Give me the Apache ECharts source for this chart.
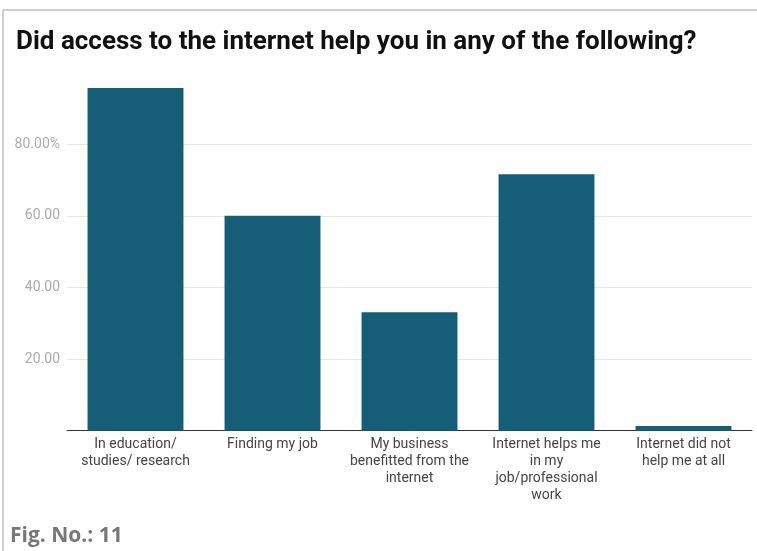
<!DOCTYPE html>
<html>
<head>
<meta charset="utf-8">
<script src="https://cdn.jsdelivr.net/npm/echarts@6/dist/echarts.min.js"></script>
<style>
  html, body { margin: 0; padding: 0; background: #fff; }
  #chart { width: 757px; height: 551px; }
</style>
</head>
<body>
<div id="chart"></div>
<script>
// Survey answers and the share of respondents (%) for each
const categories = [
  'In education/\nstudies/ research',
  'Finding my job',
  'My business\nbenefitted from the\ninternet',
  'Internet helps me\nin my\njob/professional\nwork',
  'Internet did not\nhelp me at all'
];
const shares = [95.7, 60.0, 33.1, 71.6, 1.3];
const yTicks = { min: 0, max: 100, step: 20 };
const titleText = 'Did access to the internet help you in any of the following?';
const figureCaption = 'Fig. No.: 11';

const chart = echarts.init(document.getElementById('chart'), null, { renderer: 'canvas' });

chart.setOption({
  animation: false,
  backgroundColor: '#ffffff',
  title: {
    text: titleText,
    left: 11,
    top: 24,
    textStyle: {
      fontFamily: 'Roboto',
      fontWeight: 'bold',
      fontSize: 26,
      color: '#111111'
    }
  },
  grid: {
    left: 67,
    right: 5,
    top: 72.6,
    bottom: 120.3,
    containLabel: false
  },
  xAxis: {
    type: 'category',
    data: categories,
    axisLine: { show: true, lineStyle: { color: '#333333', width: 1 } },
    axisTick: { show: false },
    axisLabel: {
      interval: 0,
      margin: 5,
      fontFamily: 'Roboto',
      fontSize: 14,
      lineHeight: 17,
      color: '#444444',
      verticalAlign: 'top'
    }
  },
  yAxis: {
    type: 'value',
    min: yTicks.min,
    max: yTicks.max,
    interval: yTicks.step,
    axisLine: { show: false },
    axisTick: { show: false },
    splitLine: {
      show: true,
      showMinLine: false,
      showMaxLine: false,
      lineStyle: { color: '#e6e6e6', width: 1 }
    },
    axisLabel: {
      showMinLabel: false,
      showMaxLabel: false,
      margin: 7,
      fontFamily: 'Roboto',
      fontSize: 14,
      color: '#ababab',
      formatter: function (v) {
        return v === 80 ? v.toFixed(2) + '%' : v.toFixed(2);
      }
    }
  },
  series: [{
    type: 'bar',
    data: shares,
    barWidth: '70%',
    itemStyle: { color: '#165e77' }
  }],
  graphic: [
    {
      type: 'line',
      shape: { x1: 3, y1: 10, x2: 757, y2: 10 },
      style: { stroke: '#cfcfcf', lineWidth: 2 }
    },
    {
      type: 'line',
      shape: { x1: 3, y1: 10, x2: 3, y2: 551 },
      style: { stroke: '#cfcfcf', lineWidth: 2 }
    },
    {
      type: 'text',
      left: 10,
      top: 526,
      style: {
        text: figureCaption,
        font: 'bold 21px "Open Sans"',
        fill: '#777777'
      }
    }
  ]
});
</script>
</body>
</html>
